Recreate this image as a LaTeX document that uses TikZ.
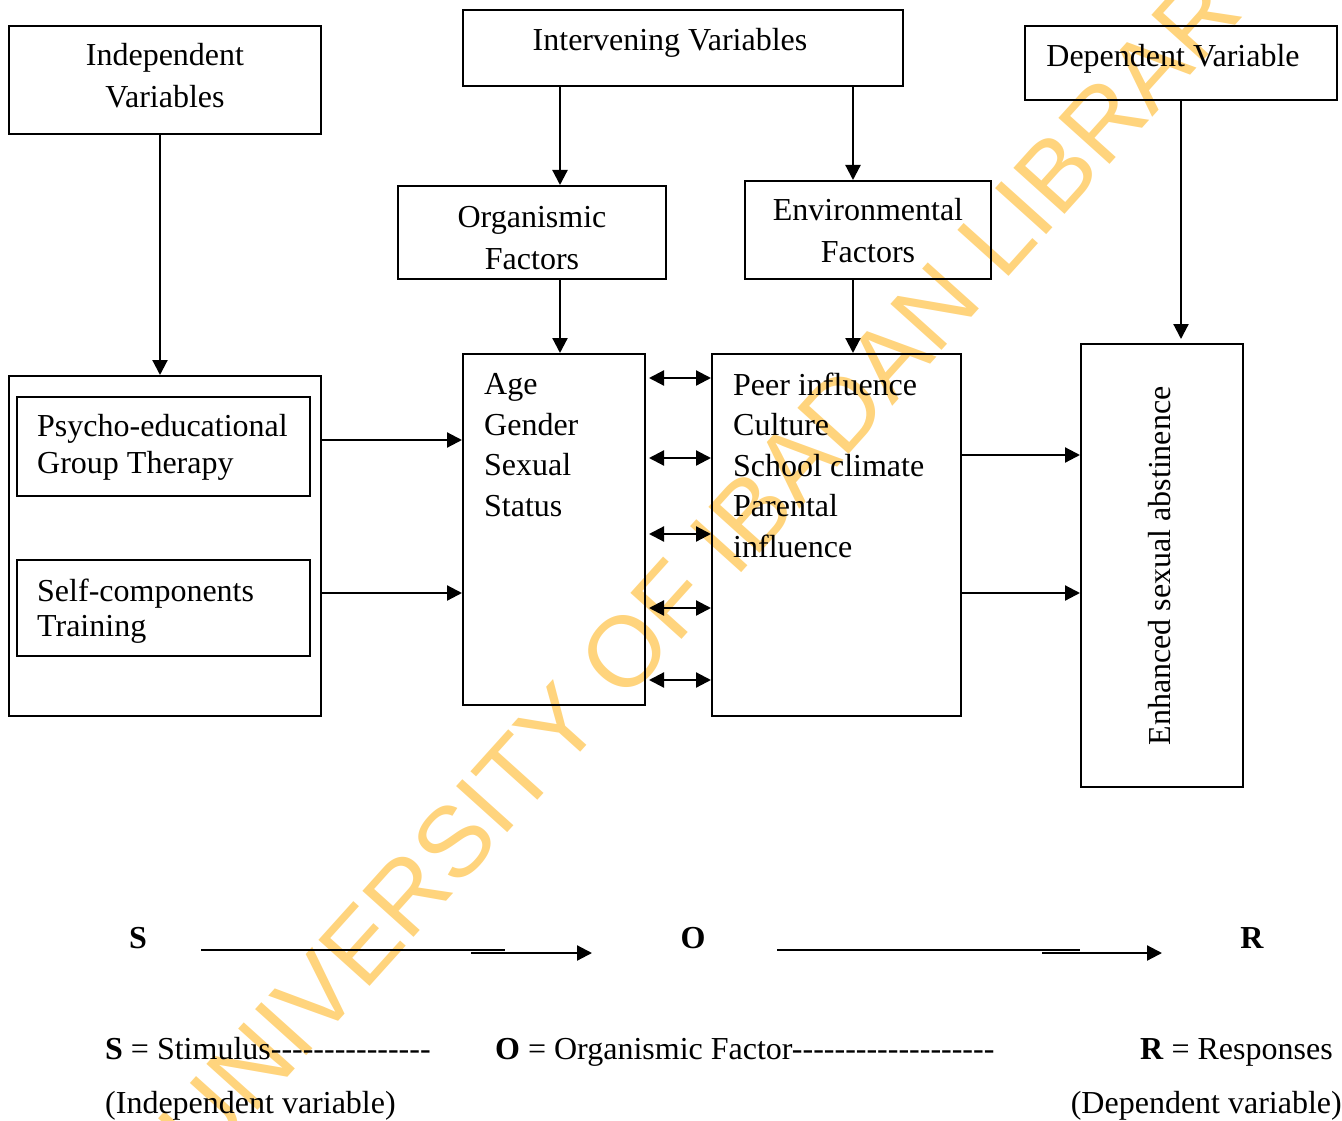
\documentclass[tikz,border=0pt]{standalone}
\usepackage{fontspec}
\setmainfont{Liberation Serif}
\newfontfamily\wmfont{Liberation Sans}
\usetikzlibrary{arrows.meta}
\definecolor{wmcol}{RGB}{255,212,125}
\newcommand\dashes[1]{\foreach \i in {1,...,#1}{-\kern0pt}}
\begin{document}
\begin{tikzpicture}[x=1pt,y=-1pt,
  box/.style={draw, line width=2pt, inner sep=0pt},
  txt/.style={font=\fontsize{32pt}{42pt}\selectfont, inner sep=0pt, align=center},
  ltxt/.style={font=\fontsize{32pt}{40.5pt}\selectfont, inner sep=0pt, align=left, anchor=west},
  btxt/.style={font=\fontsize{32pt}{40pt}\selectfont, inner sep=0pt, anchor=base west},
  arr/.style={line width=2.2pt, -{Triangle[length=15pt,width=15pt]}},
  darr/.style={line width=2.2pt, {Triangle[length=15pt,width=15pt]}-{Triangle[length=15pt,width=15pt]}},
  plain/.style={line width=1.6pt}]
\useasboundingbox (0,0) rectangle (1342,1121);
\begin{scope}
\clip (0,0) rectangle (1342,1121);
\node[rotate=48, text=wmcol, font=\wmfont\fontsize{100pt}{100pt}\selectfont, inner sep=0pt] (wm) at (721,545) {UNIVERSITY OF IBADAN LIBRARY};
\end{scope}

% boxes
\node[box, minimum width=440pt, minimum height=76pt] (inter) at (683,48) {};
\node[box, minimum width=312pt, minimum height=108pt] (indep) at (165,80) {};
\node[box, minimum width=312pt, minimum height=74pt] (dep) at (1181,63) {};
\node[box, minimum width=268pt, minimum height=93pt] (org) at (532,232.5) {};
\node[box, minimum width=246pt, minimum height=98pt] (env) at (868,230) {};
\node[box, minimum width=312pt, minimum height=340pt] (left) at (165,546) {};
\node[box, minimum width=293pt, minimum height=99pt] (psy) at (163.5,446.5) {};
\node[box, minimum width=293pt, minimum height=96pt] (self) at (163.5,608) {};
\node[box, minimum width=182pt, minimum height=351pt] (age) at (554,529.5) {};
\node[box, minimum width=249pt, minimum height=362pt] (peer) at (836.5,535) {};
\node[box, minimum width=162pt, minimum height=443pt] (enh) at (1162,565.5) {};

% texts
\node[txt] (tindep) at (165,76) {Independent\\Variables};
\node[txt] (tinter) at (670,42.5) {Intervening Variables};
\node[txt] (tdep) at (1173,59) {Dependent Variable};
\node[txt] (torg) at (532,238) {Organismic\\Factors};
\node[txt] (tenv) at (868,231) {Environmental\\Factors};
\node[ltxt, font=\fontsize{32pt}{37pt}\selectfont] (tpsy) at (37,447) {Psycho-educational\\Group Therapy};
\node[ltxt, font=\fontsize{32pt}{35pt}\selectfont] (tself) at (37,611) {Self-components\\Training};
\node[ltxt] (tage) at (484,445) {Age\\Gender\\Sexual\\Status};
\node[ltxt] (tpeer) at (733,465) {Peer influence\\Culture\\School climate\\Parental\\influence};
\node[txt, rotate=90] (tenh) at (1160,566) {Enhanced sexual abstinence};

% vertical arrows
\draw[arr] (160,0 |- indep.south) -- (160,0 |- left.north);
\draw[arr] (560,0 |- inter.south) -- (560,0 |- org.north);
\draw[arr] (853,0 |- inter.south) -- (853,0 |- env.north);
\draw[arr] (560,0 |- org.south) -- (560,0 |- age.north);
\draw[arr] (853,0 |- env.south) -- (853,0 |- peer.north);
\draw[arr, shorten >=4pt] (1181,0 |- dep.south) -- (1181,0 |- enh.north);

% horizontal arrows
\draw[arr] (left.east |- 0,440) -- (age.west |- 0,440);
\draw[arr] (left.east |- 0,593) -- (age.west |- 0,593);
\foreach \yy in {378,458,534,608,680}
  \draw[darr, shorten <=3pt] (age.east |- 0,\yy) -- (peer.west |- 0,\yy);
\draw[arr] (peer.east |- 0,455) -- (enh.west |- 0,455);
\draw[arr] (peer.east |- 0,593) -- (enh.west |- 0,593);

% S O R
\node[btxt, anchor=base, font=\bfseries\fontsize{32pt}{36pt}\selectfont] (S) at (138,948) {S};
\node[btxt, anchor=base, font=\bfseries\fontsize{32pt}{36pt}\selectfont] (O) at (693,948) {O};
\node[btxt, anchor=base, font=\bfseries\fontsize{32pt}{36pt}\selectfont] (R) at (1252,948) {R};
\coordinate (a1) at (201,950);
\coordinate (a2) at (505,950);
\coordinate (a3) at (471,953);
\coordinate (a4) at (592,953);
\coordinate (b1) at (777,950);
\coordinate (b2) at (1080,950);
\coordinate (b3) at (1042,953);
\coordinate (b4) at (1162,953);
\draw[plain] (a1) -- (a2);
\draw[arr] (a3) -- (a4);
\draw[plain] (b1) -- (b2);
\draw[arr] (b3) -- (b4);

% legend
\node[btxt] (ls) at (105,1059) {\textbf{S} = Stimulus\dashes{15}};
\node[btxt] (lo) at (495,1059) {\textbf{O} = Organismic Factor\dashes{19}};
\node[btxt] (lr) at (1140,1059) {\textbf{R} = Responses};
\node[btxt] (li) at (105,1113) {(Independent variable)};
\node[btxt, anchor=base east] (ld) at (1342,1113) {(Dependent variable)};
\end{tikzpicture}
\end{document}
